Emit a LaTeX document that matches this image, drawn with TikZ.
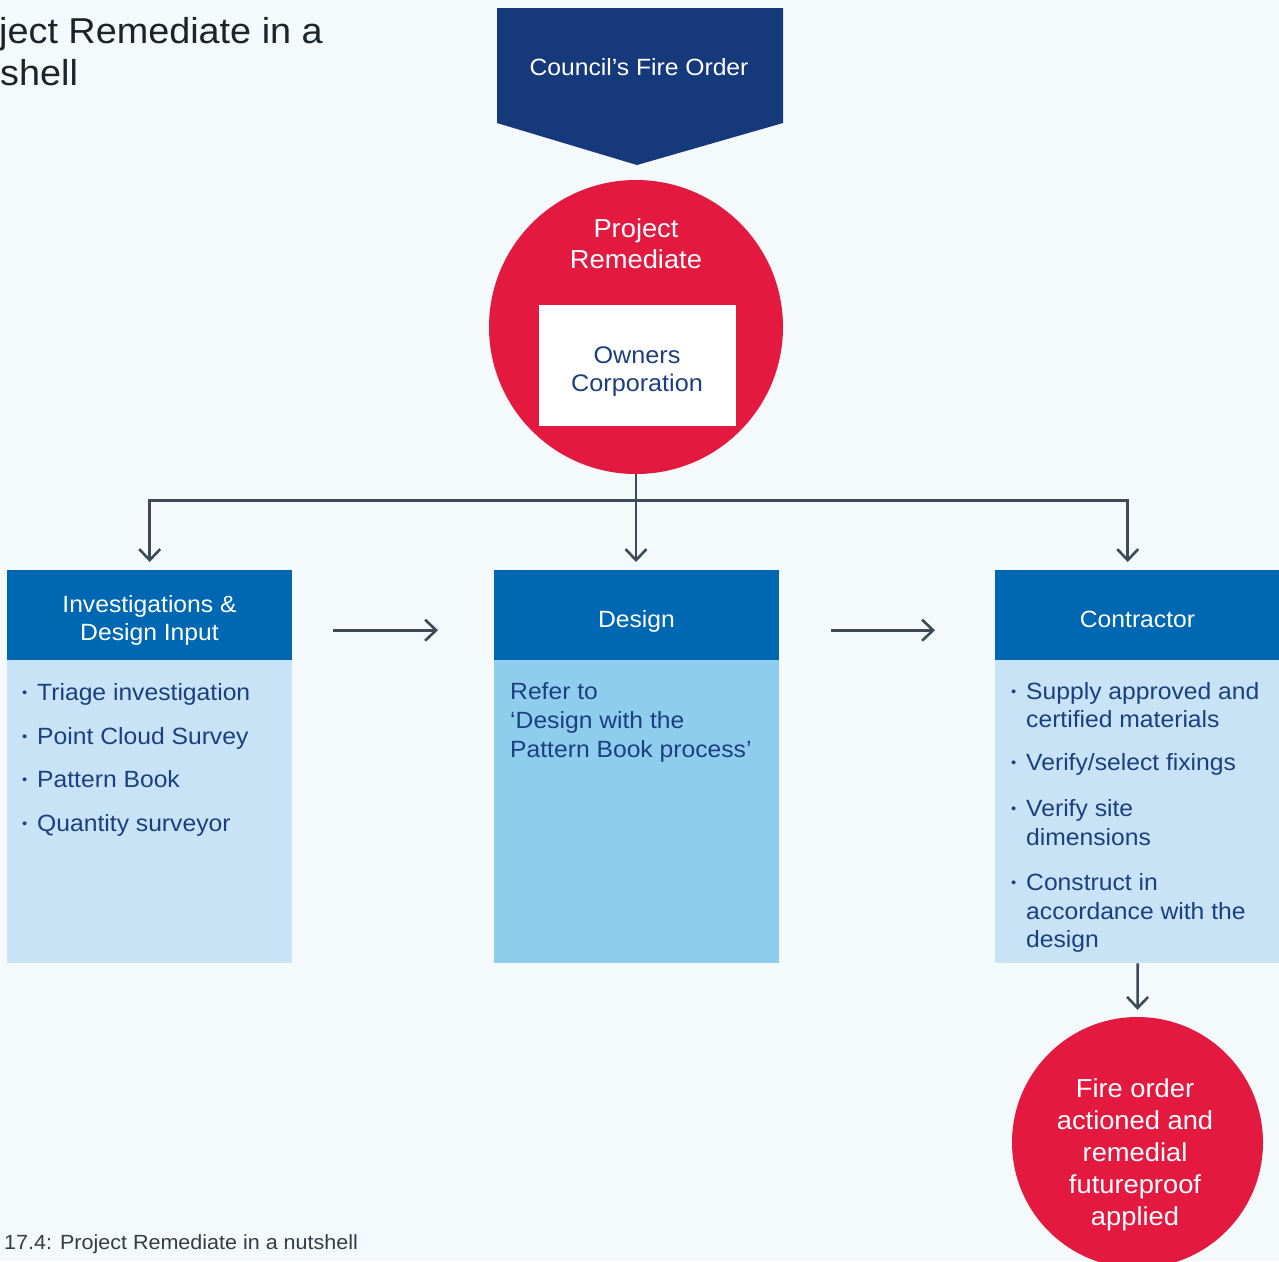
\documentclass[tikz,border=0pt]{standalone}
\usepackage{fontspec}
\setmainfont[FakeStretch=1.05]{Liberation Sans}
\usetikzlibrary{arrows.meta}
\definecolor{bgc}{HTML}{F4F9FC}
\definecolor{navy}{HTML}{15397B}
\definecolor{redc}{HTML}{E3193F}
\definecolor{hdr}{HTML}{0068B2}
\definecolor{lightb}{HTML}{C8E3F6}
\definecolor{midb}{HTML}{8FCDEF}
\definecolor{linec}{HTML}{3E4A58}
\definecolor{ntext}{HTML}{1C3F80}
\definecolor{ttext}{HTML}{1B2428}
\definecolor{ctext}{HTML}{333D42}
\newcommand\bul{\makebox[15pt][l]{\raisebox{3pt}{\scalebox{0.6}{•}}}}
\begin{document}
\begin{tikzpicture}[x=1pt,y=-1pt,
  conn/.style={draw=linec,line width=2.6pt},
  arr/.style={conn,-{Straight Barb[length=11pt,width=21pt]}},
  hdrbox/.style={fill=hdr,minimum width=285,minimum height=90,anchor=north west,inner sep=0},
  bodybox/.style={minimum width=285,minimum height=303,anchor=north west,inner sep=0},
  hdrtxt/.style={text=white,font=\fontsize{23.5}{28}\selectfont,anchor=base,inner sep=0},
  btxt/.style={text=ntext,font=\fontsize{23.5}{28}\selectfont,anchor=base west,inner sep=0},
  ctxt/.style={text=white,font=\fontsize{26}{31}\selectfont,anchor=base,inner sep=0},
]
\fill[bgc] (0,0) rectangle (1279,1261);
\useasboundingbox (0,0) rectangle (1279,1261);

% title and caption
\node[text=ttext,font=\fontsize{36}{42}\selectfont,anchor=base west,inner sep=0] (title1) at (-1,43) {ject Remediate in a};
\node[text=ttext,font=\fontsize{36}{42}\selectfont,anchor=base west,inner sep=0] (title2) at (0,85) {shell};
\node[text=ctext,font=\fontsize{20.5}{24}\selectfont,anchor=base west,inner sep=0] (caption) at (4,1249) {17.4: Project Remediate in a nutshell};

% council's fire order
\fill[navy] (497,8) -- (783,8) -- (783,123) -- (637,165) -- (497,123) -- cycle;
\node[text=white,font=\fontsize{23.5}{28}\selectfont,anchor=base,inner sep=0] (order) at (639,75) {Council’s Fire Order};

% project remediate circle
\node[circle,fill=redc,minimum size=294,inner sep=0] (pr) at (636,327) {};
\node[ctxt] (prt1) at (636,237) {Project};
\node[ctxt] (prt2) at (636,268) {Remediate};
\node[fill=white,minimum width=197,minimum height=121,anchor=north west,inner sep=0] (oc) at (539,305) {};
\node[text=ntext,font=\fontsize{24}{28}\selectfont,anchor=base,inner sep=0] (oct1) at (637,363) {Owners};
\node[text=ntext,font=\fontsize{24}{28}\selectfont,anchor=base,inner sep=0] (oct2) at (637,391) {Corporation};

% boxes
\node[hdrbox] (inv) at (7,570) {};
\node[hdrtxt] (invt1) at (149.5,612) {Investigations \&};
\node[hdrtxt] (invt2) at (149.5,640) {Design Input};
\node[bodybox,fill=lightb] (invb) at (7,660) {};
\node[hdrbox] (des) at (494,570) {};
\node[hdrtxt] (dest) at (636.5,627) {Design};
\node[bodybox,fill=midb] (desb) at (494,660) {};
\node[hdrbox] (con) at (995,570) {};
\node[hdrtxt] (cont) at (1137.5,627) {Contractor};
\node[bodybox,fill=lightb] (conb) at (995,660) {};

% left body
\node[btxt] (i1) at (22,700) {\bul Triage investigation};
\node[btxt] (i2) at (22,744) {\bul Point Cloud Survey};
\node[btxt] (i3) at (22,787) {\bul Pattern Book};
\node[btxt] (i4) at (22,831) {\bul Quantity surveyor};

% middle body
\node[btxt] (d1) at (510,699) {Refer to};
\node[btxt] (d2) at (510,728) {‘Design with the};
\node[btxt] (d3) at (510,757) {Pattern Book process’};

% right body
\node[btxt] (c1) at (1011,699) {\bul Supply approved and};
\node[btxt] (c1b) at (1026,727) {certified materials};
\node[btxt] (c2) at (1011,770) {\bul Verify/select fixings};
\node[btxt] (c3) at (1011,816) {\bul Verify site};
\node[btxt] (c3b) at (1026,845) {dimensions};
\node[btxt] (c4) at (1011,890) {\bul Construct in};
\node[btxt] (c4b) at (1026,919) {accordance with the};
\node[btxt] (c4c) at (1026,947) {design};

% final circle
\node[circle,fill=redc,minimum size=251,inner sep=0] (fo) at (1137.5,1142.5) {};
\node[ctxt] (f1) at (1135,1097) {Fire order};
\node[ctxt] (f2) at (1135,1129) {actioned and};
\node[ctxt] (f3) at (1135,1161) {remedial};
\node[ctxt] (f4) at (1135,1193) {futureproof};
\node[ctxt] (f5) at (1135,1225) {applied};

% connectors
\coordinate (hub) at ([yshift=-26]pr.south);
\coordinate (conin) at ([xshift=-10]con.north);
\coordinate (invo) at ([yshift=-15]inv.east);
\coordinate (desi) at ([yshift=-15]des.west);
\coordinate (deso) at ([yshift=-15]des.east);
\coordinate (coni) at ([yshift=-15]con.west);
\draw[conn] (pr.south) -- (hub);
\draw[arr,shorten >=8] (hub) -| (inv.north);
\draw[arr,shorten >=8] (hub) -- (hub |- des.north);
\draw[arr,shorten >=8] (hub) -| (conin);
\draw[arr,shorten <=41,shorten >=56] (invo) -- (desi);
\draw[arr,shorten <=52,shorten >=60] (deso) -- (coni);
\draw[arr,shorten >=7] (conb.south) -- (fo.north);
\end{tikzpicture}
\end{document}
